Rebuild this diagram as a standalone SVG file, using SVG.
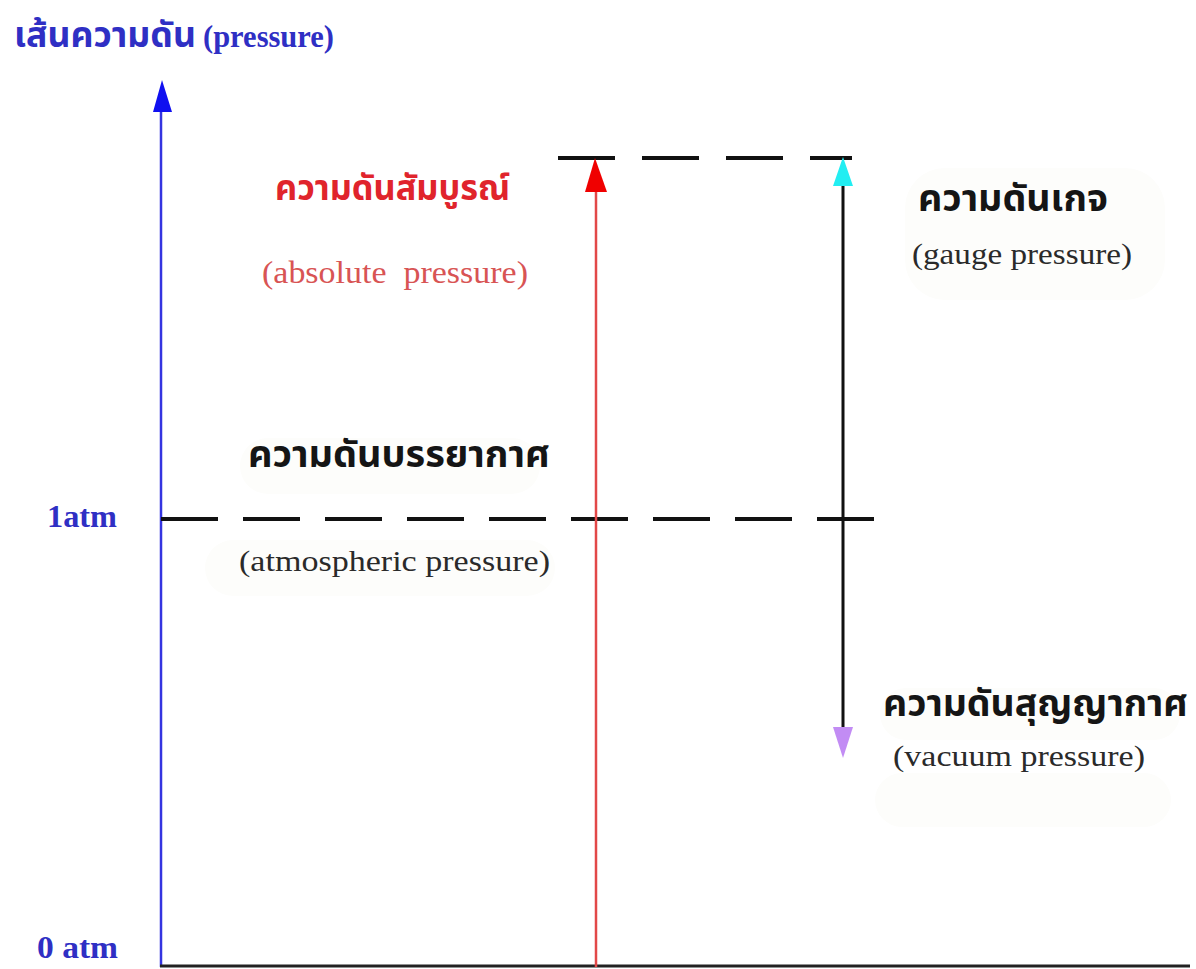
<svg xmlns="http://www.w3.org/2000/svg" width="1196" height="969" viewBox="0 0 1196 969">
<style>
.th{font-family:"Noto Sans Thai","Noto Serif Thai","Loma","Garuda","Noto Sans","DejaVu Sans",sans-serif;font-weight:bold;}
.en{font-family:"Liberation Serif","Times New Roman",serif;}
.blue{fill:#2f2fc4;}
.blk{fill:#151515;}
.red{fill:#e0242c;}
.lred{fill:#d85454;}
.grey{fill:#2a2a2a;}
.dash{stroke:#111;stroke-width:4;fill:none;}
.blob{fill:#fdfdfb;}
</style>
<rect width="1196" height="969" fill="#ffffff"/>
<g id="backgrounds">
<rect class="blob" x="240" y="438" width="300" height="56" rx="28"/>
<rect class="blob" x="205" y="540" width="350" height="56" rx="28"/>
<rect class="blob" x="905" y="168" width="260" height="132" rx="40"/>
<rect class="blob" x="880" y="688" width="300" height="52" rx="26"/>
<rect class="blob" x="875" y="773" width="296" height="54" rx="27"/>
</g>
<g id="connectors">
<line x1="161" y1="108" x2="161" y2="967" stroke="#3434e0" stroke-width="2.5"/>
<polygon points="162,80 153,112 172,112" fill="#1010f0"/>
<line x1="160" y1="966" x2="1190" y2="966" stroke="#222" stroke-width="3"/>
<line class="dash" x1="558" y1="158" x2="852" y2="158" stroke-dasharray="57 27"/>
<line class="dash" x1="161" y1="519" x2="878" y2="519" stroke-dasharray="57 25"/>
<line x1="596" y1="188" x2="596" y2="967" stroke="#e24848" stroke-width="2.5"/>
<polygon points="595,158 585,192 607,192" fill="#f00000"/>
<line x1="843" y1="182" x2="843" y2="730" stroke="#111" stroke-width="3"/>
<polygon points="843,157 833,186 853,186" fill="#22eef2"/>
<polygon points="843,758 833,727 853,727" fill="#c28cf4"/>
</g>
<g id="axis-title">
<text class="th blue" x="14" y="47" font-size="36" textLength="182" lengthAdjust="spacingAndGlyphs">เส้นความดัน</text>
<text class="en blue" x="203" y="47" font-size="31" font-weight="bold" textLength="131" lengthAdjust="spacingAndGlyphs">(pressure)</text>
</g>
<g id="label-1atm">
<text class="en blue" x="47" y="527" font-size="32" font-weight="bold" textLength="70" lengthAdjust="spacingAndGlyphs">1atm</text>
</g>
<g id="label-0atm">
<text class="en blue" x="37" y="958" font-size="32" font-weight="bold" textLength="81" lengthAdjust="spacingAndGlyphs">0 atm</text>
</g>
<g id="absolute-pressure">
<text class="th red" x="275" y="200" font-size="36" textLength="235" lengthAdjust="spacingAndGlyphs">ความดันสัมบูรณ์</text>
<text class="en lred" x="262" y="283" font-size="31" textLength="266" lengthAdjust="spacingAndGlyphs" xml:space="preserve">(absolute  pressure)</text>
</g>
<g id="gauge-pressure">
<text class="th blk" x="918" y="211" font-size="37" textLength="190" lengthAdjust="spacingAndGlyphs">ความดันเกจ</text>
<text class="en grey" x="912" y="264" font-size="29" textLength="220" lengthAdjust="spacingAndGlyphs">(gauge pressure)</text>
</g>
<g id="atmospheric-pressure">
<text class="th blk" x="248" y="467" font-size="37" textLength="302" lengthAdjust="spacingAndGlyphs">ความดันบรรยากาศ</text>
<text class="en grey" x="239" y="571" font-size="29" textLength="311" lengthAdjust="spacingAndGlyphs">(atmospheric pressure)</text>
</g>
<g id="vacuum-pressure">
<text class="th blk" x="883" y="716" font-size="37" textLength="305" lengthAdjust="spacingAndGlyphs">ความดันสุญญากาศ</text>
<text class="en grey" x="893" y="766" font-size="29" textLength="252" lengthAdjust="spacingAndGlyphs">(vacuum pressure)</text>
</g>
</svg>
